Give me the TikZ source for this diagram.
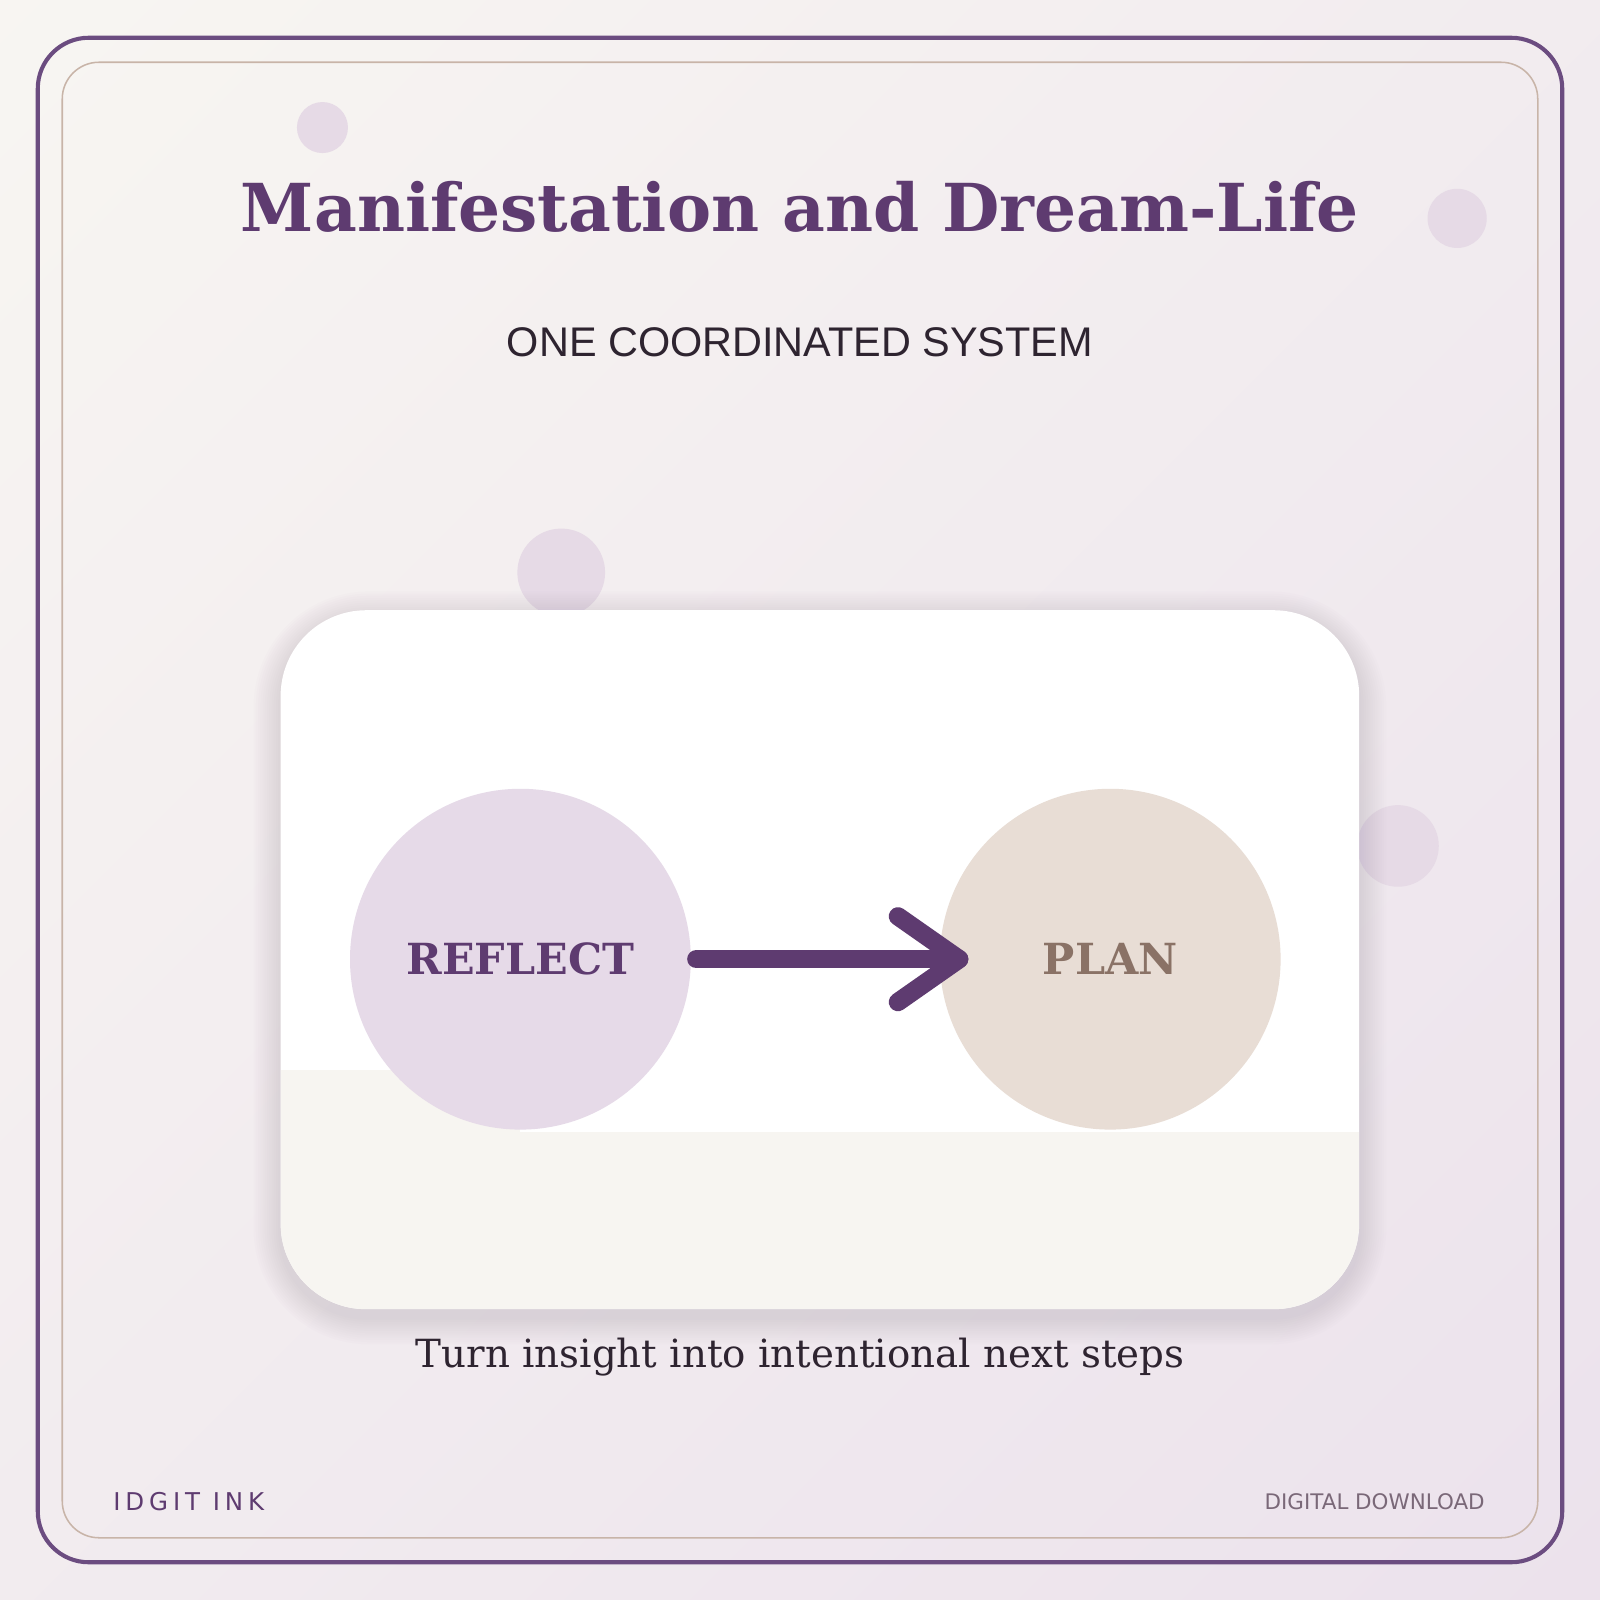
\documentclass[tikz,border=0pt]{standalone}
\usepackage{fontspec}
\setmainfont{DejaVu Serif}
\newfontfamily\subf{Liberation Sans}
\newfontfamily\dvs{DejaVu Sans}
\definecolor{bgA}{HTML}{F8F6F2}
\definecolor{bgB}{HTML}{EBE1EC}
\definecolor{purp}{HTML}{5E3B70}
\definecolor{frame}{HTML}{6B4C80}
\definecolor{tan}{HTML}{C8B4A8}
\definecolor{dot}{HTML}{E6DAE6}
\definecolor{cream}{HTML}{F7F5F1}
\definecolor{lav}{HTML}{E6DAE8}
\definecolor{sand}{HTML}{E8DDD5}
\definecolor{plant}{HTML}{8A7266}
\definecolor{ink}{HTML}{2E2430}
\definecolor{grey}{HTML}{7A6878}
\definecolor{shad}{HTML}{8A6A9A}
\begin{document}
\begin{tikzpicture}[x=0.5pt,y=-0.5pt,
  deco/.style={fill=dot},
  lbl/.style={font=\bfseries\fontsize{21}{25}\selectfont}]
\fill[bgA] (0,0) rectangle (1600,1600);
\begin{scope}
\clip (0,0) rectangle (1600,1600);
\shade[left color=bgA,right color=bgB,shading angle=45] (-400,-400) rectangle (2000,2000);
\end{scope}
\draw[frame,line width=2pt,rounded corners=25pt] (37,37) rectangle (1531,1531);
\draw[tan,line width=0.75pt,rounded corners=18pt] (61,61) rectangle (1507,1507);
\fill[deco] (316,125) circle (25);
\fill[deco] (1428,214) circle (29);
\fill[deco] (550,561) circle (43);
\fill[deco] (1370,829) circle (40);
\node (title) at (784,203) {\color{purp}\bfseries\fontsize{32.4}{40}\selectfont Manifestation and Dream-Life};
\node (sub) at (784,335) {\color{ink}\subf\fontsize{20.3}{24}\selectfont ONE COORDINATED SYSTEM};
\foreach \i in {1,...,12}{
  \fill[shad,opacity=0.017,rounded corners=42pt+\i*1.2pt] (275-\i*2.2,598-\i*2.2+8) rectangle (1332+\i*2.2,1283+\i*2.2+8);
}
\fill[white,rounded corners=42pt] (275,598) rectangle (1332,1283);
\begin{scope}
\clip[rounded corners=42pt] (275,598) rectangle (1332,1283);
\fill[cream] (275,1109) rectangle (1332,1283);
\fill[cream] (275,1049) rectangle (510,1109);
\end{scope}
\node[circle,fill=lav,minimum size=167pt,inner sep=0pt] (reflect) at (510,940) {};
\node[lbl,text=purp] at (reflect) {REFLECT};
\node[circle,fill=sand,minimum size=167pt,inner sep=0pt] (plan) at (1088,940) {};
\node[lbl,text=plant] at (plan) {PLAN};
\coordinate (tip) at (940,940);
\draw[purp,line width=9pt,line cap=round,line join=round] (reflect.east)++(5,0) -- (tip);
\draw[purp,line width=9pt,line cap=round,line join=round] (880,898) -- (tip) -- (880,982);
\node (cap) at (784,1330) {\color{ink}\fontsize{19}{23}\selectfont Turn insight into intentional next steps};
\node[anchor=west] (brand) at (104,1472) {\color{purp}\dvs\fontsize{12}{14}\selectfont\addfontfeatures{LetterSpace=20}IDGIT INK};
\node[anchor=east] (dl) at (1462,1472) {\color{grey}\dvs\fontsize{10.5}{13}\selectfont DIGITAL DOWNLOAD};
\pgfresetboundingbox
\useasboundingbox (0,0) rectangle (1568,1568);
\end{tikzpicture}
\end{document}
